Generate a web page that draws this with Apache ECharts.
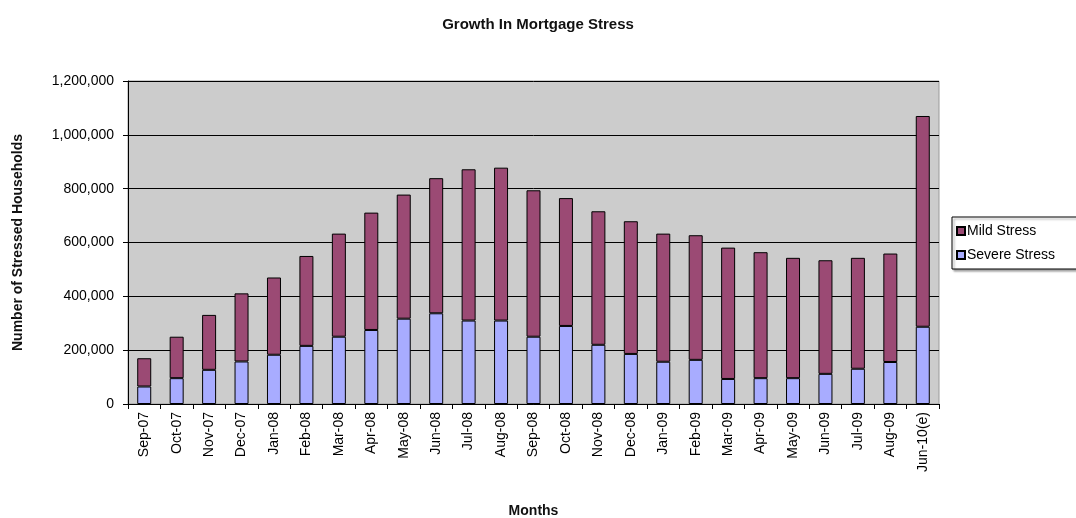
<!DOCTYPE html>
<html>
<head>
<meta charset="utf-8">
<script src="https://cdn.jsdelivr.net/npm/echarts@6/dist/echarts.min.js"></script>
<style>
  html, body { margin: 0; padding: 0; background: #fff; }
  #chart { width: 1076px; height: 518px; }
</style>
</head>
<body>
<div id="chart"></div>
<script>
// months on the x axis
var months = ['Sep-07', 'Oct-07', 'Nov-07', 'Dec-07', 'Jan-08', 'Feb-08', 'Mar-08', 'Apr-08',
    'May-08', 'Jun-08', 'Jul-08', 'Aug-08', 'Sep-08', 'Oct-08', 'Nov-08', 'Dec-08',
    'Jan-09', 'Feb-09', 'Mar-09', 'Apr-09', 'May-09', 'Jun-09', 'Jul-09', 'Aug-09', 'Jun-10(e)'];

// severe stress households (bottom of stack)
var severeStress = [65000, 96000, 127000, 158000, 183000, 216000, 250000, 275000,
    317000, 337000, 310000, 310000, 250000, 290000, 220000, 186000,
    157000, 164000, 93000, 96000, 96000, 112000, 131000, 156000, 287000];

// mild stress households (top of stack)
var mildStress = [105000, 154000, 204000, 253000, 287000, 334000, 383000, 436000,
    461000, 502000, 562000, 568000, 544000, 475000, 496000, 493000,
    476000, 463000, 488000, 468000, 447000, 422000, 412000, 403000, 783000];

var yTicks = [0, 200000, 400000, 600000, 800000, 1000000, 1200000];

var font = 'Liberation Sans, Arial, sans-serif';

var chart = echarts.init(document.getElementById('chart'));
chart.setOption({
    animation: false,
    backgroundColor: '#fff',
    textStyle: { fontFamily: font, color: '#000' },
    title: {
        text: 'Growth In Mortgage Stress',
        left: 'center',
        top: 12,
        textStyle: { fontFamily: font, fontSize: 15, fontWeight: 'bold', color: '#111' }
    },
    legend: {
        orient: 'vertical',
        left: 952,
        top: 217,
        data: ['Mild Stress', 'Severe Stress'],
        icon: 'rect',
        itemWidth: 8,
        itemHeight: 8,
        itemGap: 10,
        padding: [7, 40, 7, 4],
        borderColor: '#000',
        borderWidth: 1,
        backgroundColor: '#fff',
        shadowColor: 'rgba(0,0,0,0.35)',
        shadowOffsetX: 2,
        shadowOffsetY: 2,
        shadowBlur: 2,
        textStyle: { fontFamily: font, fontSize: 14, color: '#000', padding: [0, 0, 0, -3] }
    },
    grid: {
        left: 128,
        right: 137,
        top: 81,
        bottom: 114,
        containLabel: false,
        outerBoundsMode: 'none',
        show: true,
        backgroundColor: '#cccccc',
        borderColor: '#9a9a9a',
        borderWidth: 1
    },
    xAxis: {
        type: 'category',
        data: months,
        name: 'Months',
        nameLocation: 'middle',
        nameGap: 100,
        nameTextStyle: { fontFamily: font, fontSize: 14, fontWeight: 'bold', color: '#111' },
        axisLine: { lineStyle: { color: '#000', width: 1 } },
        axisTick: { show: true, alignWithLabel: false, length: 5, lineStyle: { color: '#000' } },
        axisLabel: { rotate: 90, interval: 0, fontSize: 14, color: '#000', margin: 8 }
    },
    yAxis: {
        type: 'value',
        min: yTicks[0],
        max: yTicks[yTicks.length - 1],
        interval: 200000,
        name: 'Number of Stressed Households',
        nameLocation: 'middle',
        nameGap: 103,
        nameTextStyle: { fontFamily: font, fontSize: 14, fontWeight: 'bold', color: '#111' },
        axisLine: { show: true, lineStyle: { color: '#000', width: 1 } },
        axisTick: { show: true, length: 5, lineStyle: { color: '#000' } },
        splitLine: { lineStyle: { color: '#000', width: 1 } },
        axisLabel: {
            fontSize: 14,
            color: '#000',
            margin: 14,
            formatter: function (v) { return v.toLocaleString('en-US'); }
        }
    },
    series: [
        {
            name: 'Severe Stress',
            type: 'bar',
            stack: 'stress',
            data: severeStress,
            barWidth: 14,
            itemStyle: { color: '#a8acff', borderColor: '#000', borderWidth: 1 }
        },
        {
            name: 'Mild Stress',
            type: 'bar',
            stack: 'stress',
            data: mildStress,
            barWidth: 14,
            itemStyle: { color: '#9b4a74', borderColor: '#000', borderWidth: 1 }
        }
    ]
});
</script>
</body>
</html>
